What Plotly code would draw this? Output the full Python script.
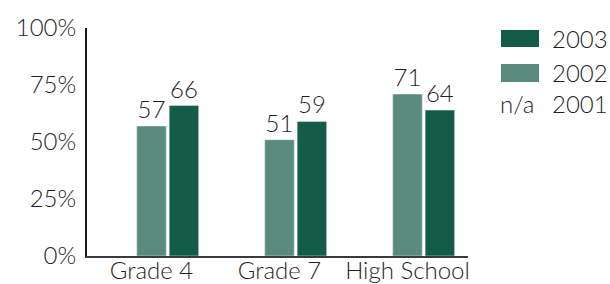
import plotly.graph_objects as go

categories = ["Grade 4", "Grade 7", "High School"]
v2001 = [None, None, None]
v2002 = [57, 51, 71]
v2003 = [66, 59, 64]
labels2002 = ["57", "51", "71"]
labels2003 = ["66", "59", "64"]
y_ticks = [0, 25, 50, 75, 100]
y_ticktext = ["0%", "25%", "50%", "75%", "100%"]

C2002 = "#5a8a7b"
C2003 = "#135c47"
TXT = "#1f1f1f"
FONT = "Lato, Open Sans, sans-serif"
FS = 24
FW = 300

W, H = 610, 284
L, R, T, B = 87, 142, 28, 28

fnt = dict(size=FS, color=TXT, family=FONT, weight=FW)

fig = go.Figure()
fig.add_bar(x=categories, y=v2001, name="2001", marker_color="#ffffff", showlegend=False)
fig.add_bar(x=categories, y=v2002, name="2002", marker_color=C2002,
            text=labels2002, textposition="outside", cliponaxis=False,
            textfont=fnt, showlegend=False)
fig.add_bar(x=categories, y=v2003, name="2003", marker_color=C2003,
            text=labels2003, textposition="outside", cliponaxis=False,
            textfont=fnt, showlegend=False)

pw = W - L - R
ph = H - T - B


def px(x):
    return (x - L) / pw


def py(y):
    return (H - B - y) / ph


shapes = [
    dict(type="rect", xref="paper", yref="paper", x0=px(501), x1=px(539), y0=py(47), y1=py(30),
         fillcolor=C2003, line=dict(width=0)),
    dict(type="rect", xref="paper", yref="paper", x0=px(501), x1=px(539), y0=py(82), y1=py(64),
         fillcolor=C2002, line=dict(width=0)),
]
annotations = [
    dict(text="2003", x=px(609), y=py(38), xref="paper", yref="paper", xanchor="right", yanchor="middle",
         showarrow=False, font=fnt, borderpad=0),
    dict(text="2002", x=px(609), y=py(72), xref="paper", yref="paper", xanchor="right", yanchor="middle",
         showarrow=False, font=fnt, borderpad=0),
    dict(text="2001", x=px(609), y=py(103), xref="paper", yref="paper", xanchor="right", yanchor="middle",
         showarrow=False, font=fnt, borderpad=0),
    dict(text="n/a", x=px(517), y=py(103), xref="paper", yref="paper", xanchor="center", yanchor="middle",
         showarrow=False, font=fnt, borderpad=0),
]

fig.update_layout(
    width=W, height=H,
    margin=dict(l=L, r=R, t=T, b=B, pad=0),
    paper_bgcolor="white", plot_bgcolor="white",
    barmode="group", bargap=0.24, bargroupgap=0.09,
    showlegend=False,
    font=fnt,
    shapes=shapes, annotations=annotations,
    xaxis=dict(range=[-0.504, 2.473], showgrid=False, zeroline=False,
               showline=True, linecolor="#3a3a3a", linewidth=2,
               ticks="", ticklabelstandoff=-8,
               tickfont=fnt, automargin=False),
    yaxis=dict(range=[0, 100], tickvals=y_ticks, ticktext=y_ticktext, showgrid=False, zeroline=False,
               showline=True, linecolor="#1a1a1a", linewidth=2,
               ticks="outside", ticklen=4, tickcolor="rgba(0,0,0,0)",
               tickfont=fnt, automargin=False),
)

fig.write_html("out.html", config={"displayModeBar": False},
               post_script="document.body.style.margin='0';document.body.style.overflow='hidden';")
